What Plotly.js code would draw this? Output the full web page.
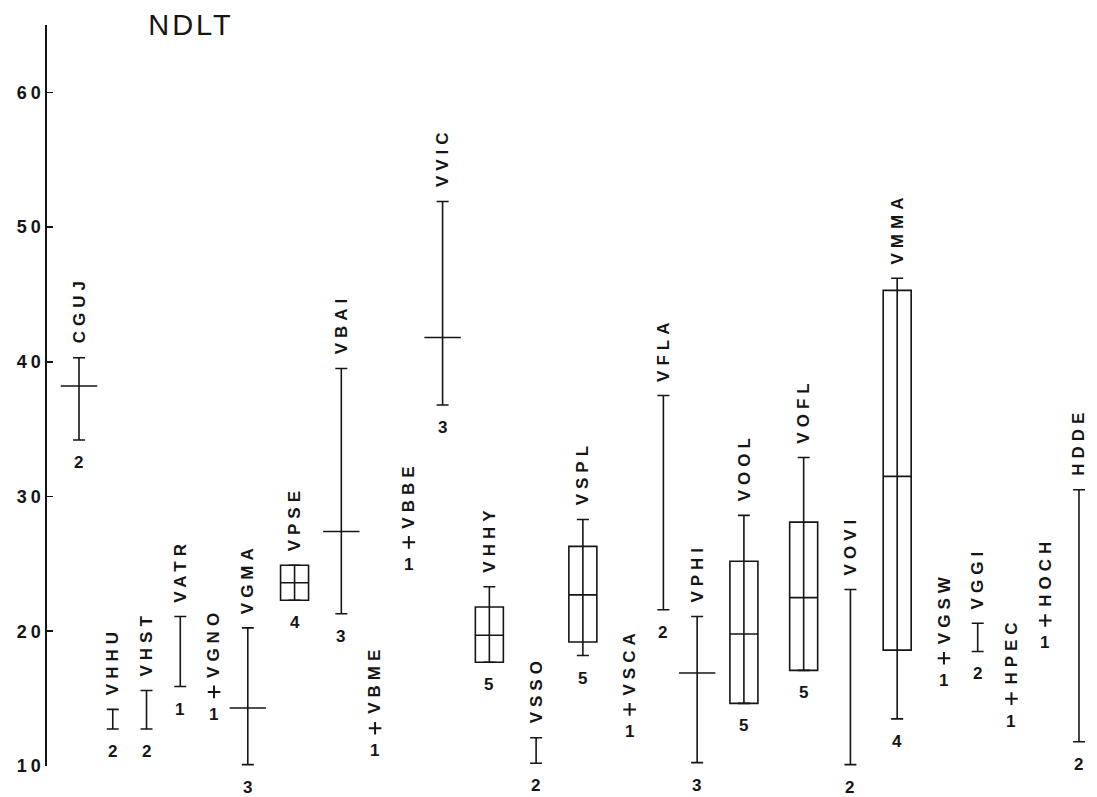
<!DOCTYPE html>
<html>
<head>
<meta charset="utf-8">
<script src="https://cdn.plot.ly/plotly-3.0.1.min.js"></script>
<style>
html, body { margin: 0; padding: 0; background: #ffffff; }
.annotation-text { letter-spacing: 5px; }
.ytick text { letter-spacing: 4px; }
.gtitle { letter-spacing: 3px; }
</style>
</head>
<body>
<div id="chart" style="width:1097px;height:797px;"></div>
<script>
// ---------------- data ----------------
const chartTitle = 'NDLT';
const names = ['CGUJ','VHHU','VHST','VATR','VGNO','VGMA','VPSE','VBAI','VBME','VBBE','VVIC','VHHY','VSSO',
               'VSPL','VSCA','VFLA','VPHI','VOOL','VOFL','VOVI','VMMA','VGSW','VGGI','HPEC','HOCH','HDDE'];
const counts = [2,2,2,1,1,3,4,3,1,1,3,5,2,5,1,2,3,5,5,2,4,1,2,1,1,2];
const minVals = [34.2,12.75,12.75,15.9,null,10.1,22.3,21.3,null,null,36.8,17.7,10.2,
                 18.2,null,21.6,10.25,14.65,17.1,10.1,13.5,null,18.5,null,null,11.8];
const maxVals = [40.3,14.2,15.6,21.1,null,20.25,24.9,39.5,null,null,51.9,23.3,12.1,
                 28.3,null,37.5,21.1,28.6,32.9,23.1,46.2,null,20.6,null,null,30.5];
const medians = [38.2,null,null,null,15.5,14.3,23.6,27.4,12.8,26.6,41.8,19.7,null,
                 22.7,14.2,null,16.9,19.8,22.5,null,31.5,18.0,null,15.0,20.8,null];
const q1Vals  = [null,null,null,null,null,null,22.3,null,null,null,null,17.7,null,
                 19.2,null,null,null,14.65,17.1,null,18.6,null,null,null,null,null];
const q3Vals  = [null,null,null,null,null,null,24.9,null,null,null,null,21.8,null,
                 26.3,null,null,null,25.2,28.1,null,45.3,null,null,null,null,null];
const yTickVals = [10,20,30,40,50,60];
const yAxisTop = 65;

// ---------------- layout helpers ----------------
const INK = '#151515';
const FONT = 'Liberation Sans, Arial, sans-serif';
const UNIT_PX = 33.76;      // px per slot unit
const BOX_SLOT = 1.77;      // slot width of a boxed item (whisker item = 1)
const FIRST_X = 0.948;
const plotLeft = 47, plotWidth = 1097 - 47;

const hasBox = names.map((_, i) => q1Vals[i] != null);
const slot = hasBox.map(b => b ? BOX_SLOT : 1);
const xPos = [];
names.forEach((_, i) => {
  xPos.push(i === 0 ? FIRST_X : xPos[i - 1] + (slot[i - 1] + slot[i]) / 2);
});

const idx = names.map((_, i) => i);
const rangeIdx = idx.filter(i => minVals[i] != null);
const crossIdx = rangeIdx.filter(i => !hasBox[i] && medians[i] != null);
const singleIdx = idx.filter(i => minVals[i] == null);
const boxIdx = idx.filter(i => hasBox[i]);

const traces = [
  {
    type: 'scatter', mode: 'markers', hoverinfo: 'skip', cliponaxis: false,
    x: rangeIdx.map(i => xPos[i]),
    y: rangeIdx.map(i => minVals[i]),
    marker: { size: 1, opacity: 0 },
    error_y: {
      type: 'data', symmetric: false,
      array: rangeIdx.map(i => maxVals[i] - minVals[i]),
      arrayminus: rangeIdx.map(() => 0),
      width: 6, thickness: 1.6, color: INK
    }
  },
  {
    type: 'box', hoverinfo: 'skip',
    x: boxIdx.map(i => xPos[i]),
    q1: boxIdx.map(i => q1Vals[i]),
    median: boxIdx.map(i => medians[i]),
    q3: boxIdx.map(i => q3Vals[i]),
    lowerfence: boxIdx.map(i => q1Vals[i]),
    upperfence: boxIdx.map(i => q3Vals[i]),
    width: 28 / UNIT_PX, whiskerwidth: 0, boxpoints: false,
    line: { color: INK, width: 1.6 }, fillcolor: 'rgba(0,0,0,0)'
  },
  {
    type: 'scatter', mode: 'markers', hoverinfo: 'skip', cliponaxis: false,
    x: crossIdx.map(i => xPos[i]),
    y: crossIdx.map(i => medians[i]),
    marker: { symbol: 'line-ew', size: 26, color: INK, line: { color: INK, width: 1.6 } }
  },
  {
    type: 'scatter', mode: 'markers', hoverinfo: 'skip', cliponaxis: false,
    x: singleIdx.map(i => xPos[i]),
    y: singleIdx.map(i => medians[i]),
    marker: { symbol: 'cross-thin', size: 9, color: INK, line: { color: INK, width: 2 } }
  }
];

const labelFont = { family: FONT, size: 17, color: INK, weight: 'bold' };
const annotations = [];
idx.forEach(i => {
  const top = minVals[i] != null ? maxVals[i] : medians[i];
  const bottom = minVals[i] != null ? minVals[i] : medians[i];
  annotations.push({
    x: xPos[i], y: top, xref: 'x', yref: 'y', text: names[i], showarrow: false,
    textangle: -90, xanchor: 'center', yanchor: 'bottom', yshift: 12, font: labelFont
  });
  annotations.push({
    x: xPos[i], y: bottom, xref: 'x', yref: 'y', text: String(counts[i]), showarrow: false,
    xanchor: 'center', yanchor: 'top', yshift: -11, xshift: 2, font: labelFont
  });
});

const layout = {
  width: 1097, height: 797,
  margin: { l: plotLeft, r: 0, t: 25, b: 31 },
  paper_bgcolor: '#ffffff', plot_bgcolor: '#ffffff',
  showlegend: false,
  title: {
    text: chartTitle, font: { family: FONT, size: 29, color: INK },
    x: 191 / 1097, xref: 'container', xanchor: 'center',
    y: 1 - 25 / 797, yref: 'container', yanchor: 'middle'
  },
  xaxis: { range: [0, plotWidth / UNIT_PX], visible: false, fixedrange: true },
  yaxis: {
    range: [10, yAxisTop], showgrid: false, zeroline: false,
    showline: true, linecolor: INK, linewidth: 1.6,
    ticks: 'inside', ticklen: 6, tickwidth: 1.6, tickcolor: INK,
    tickvals: yTickVals.concat([yAxisTop]),
    ticktext: yTickVals.map(String).concat(['']),
    tickfont: { family: FONT, size: 18, color: INK, weight: 'bold' },
    ticklabelstandoff: -3,
    fixedrange: true
  },
  annotations: annotations
};

Plotly.newPlot('chart', traces, layout, { displayModeBar: false, staticPlot: true });
</script>
</body>
</html>
